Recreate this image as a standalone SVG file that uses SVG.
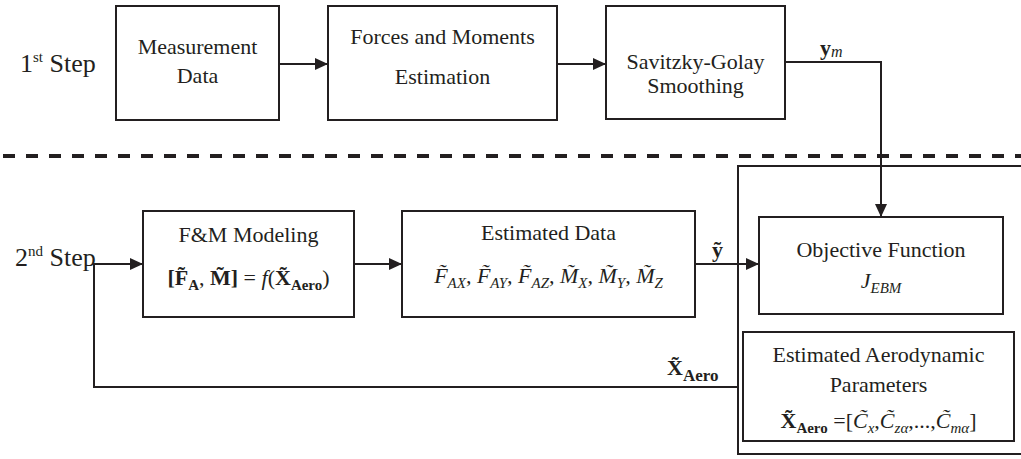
<svg xmlns="http://www.w3.org/2000/svg" width="1021" height="459" viewBox="0 0 1021 459">
<style>
text{font-family:"Liberation Serif",Tinos,"Times New Roman",Times,"Nimbus Roman","Nimbus Roman No9 L",FreeSerif,"Noto Serif","DejaVu Serif",serif;fill:#231f20}
.t{font-size:22px;text-anchor:middle}
.s{font-size:26px}
.box{fill:#fff;stroke:#231f20;stroke-width:2}
.ln{fill:none;stroke:#231f20;stroke-width:2}
.b{font-weight:bold;font-style:normal}
.i{font-style:italic}
</style>
<defs>
<marker id="ah" viewBox="0 0 13 12" refX="13" refY="6" markerWidth="13" markerHeight="12" markerUnits="userSpaceOnUse" orient="auto">
<path d="M0,0 L13,6 L0,12 Z" fill="#231f20"/>
</marker>
</defs>
<rect width="1021" height="459" fill="#fff"/>
<text x="20" y="72" class="s">1<tspan font-size="15" dy="-10">st</tspan><tspan dy="10"> Step</tspan></text>
<text x="15" y="266" class="s">2<tspan font-size="15" dy="-10">nd</tspan><tspan dy="10"> Step</tspan></text>
<line x1="3" y1="156" x2="1021" y2="156" stroke="#231f20" stroke-width="4" stroke-dasharray="12,11"/>
<g id="connectors">
<line class="ln" x1="279" y1="64" x2="328" y2="64" marker-end="url(#ah)"/>
<line class="ln" x1="557" y1="64" x2="606" y2="64" marker-end="url(#ah)"/>
<path class="ln" d="M785,62 H881 V217" marker-end="url(#ah)"/>
<line class="ln" x1="354" y1="264" x2="402" y2="264" marker-end="url(#ah)"/>
<line class="ln" x1="695" y1="264" x2="759" y2="264" marker-end="url(#ah)"/>
<path class="ln" d="M738,387 H94 V264 H143" marker-end="url(#ah)"/>
<text x="820" y="55" font-size="22"><tspan class="b">y</tspan><tspan class="i" font-size="16" dy="2">m</tspan></text>
<text x="712" y="257" font-size="22" class="b">ỹ</text>
<text x="667" y="375" font-size="22" class="b">X̃<tspan font-size="17" dy="6">Aero</tspan></text>
</g>
<g id="outer">
<path class="ln" d="M1025,166 H738 V454 H1025"/>
</g>
<g id="measurement-data">
<rect class="box" x="116" y="6" width="163" height="114"/>
<text class="t" x="197.5" y="54">Measurement</text>
<text class="t" x="197.5" y="83">Data</text>
</g>
<g id="forces-moments">
<rect class="box" x="328" y="6" width="229" height="114"/>
<text class="t" x="442.5" y="44">Forces and Moments</text>
<text class="t" x="442.5" y="84">Estimation</text>
</g>
<g id="savitzky">
<rect class="box" x="606" y="6" width="179" height="113"/>
<text class="t" x="695.5" y="69">Savitzky-Golay</text>
<text class="t" x="695.5" y="93">Smoothing</text>
</g>
<g id="fm-modeling">
<rect class="box" x="143" y="211" width="211" height="106"/>
<text class="t" x="248.5" y="242">F&amp;M Modeling</text>
<text class="t" x="248.5" y="285"><tspan class="b">[F̃</tspan><tspan class="b" font-size="15" dy="5">A</tspan><tspan dy="-5">, </tspan><tspan class="b">M̃]</tspan> = <tspan class="i">f</tspan>(<tspan class="b">X̃</tspan><tspan class="b" font-size="15" dy="5">Aero</tspan><tspan dy="-5">)</tspan></text>
</g>
<g id="estimated-data">
<rect class="box" x="402" y="211" width="293" height="106"/>
<text class="t" x="548.5" y="240">Estimated Data</text>
<text class="t i" x="548.5" y="283">F̃<tspan font-size="15" dy="5">AX</tspan><tspan dy="-5">, F̃</tspan><tspan font-size="15" dy="5">AY</tspan><tspan dy="-5">, F̃</tspan><tspan font-size="15" dy="5">AZ</tspan><tspan dy="-5">, M̃</tspan><tspan font-size="15" dy="5">X</tspan><tspan dy="-5">, M̃</tspan><tspan font-size="15" dy="5">Y</tspan><tspan dy="-5">, M̃</tspan><tspan font-size="15" dy="5">Z</tspan></text>
</g>
<g id="objective-function">
<rect class="box" x="759" y="217" width="244" height="97"/>
<text class="t" x="881" y="257">Objective Function</text>
<text class="t i" x="881" y="288">J<tspan font-size="15" dy="5">EBM</tspan></text>
</g>
<g id="aero-params">
<rect class="box" x="743" y="332" width="271" height="109"/>
<text class="t" x="878.5" y="362">Estimated Aerodynamic</text>
<text class="t" x="878.5" y="392">Parameters</text>
<text class="t" x="878.5" y="428"><tspan class="b">X̃</tspan><tspan class="b" font-size="15" dy="5">Aero</tspan><tspan dy="-5"> =[</tspan><tspan class="i">C̃</tspan><tspan class="i" font-size="15" dy="5">x</tspan><tspan dy="-5">,</tspan><tspan class="i">C̃</tspan><tspan class="i" font-size="15" dy="5">zα</tspan><tspan dy="-5">,...,</tspan><tspan class="i">C̃</tspan><tspan class="i" font-size="15" dy="5">mα</tspan><tspan dy="-5">]</tspan></text>
</g>
</svg>
